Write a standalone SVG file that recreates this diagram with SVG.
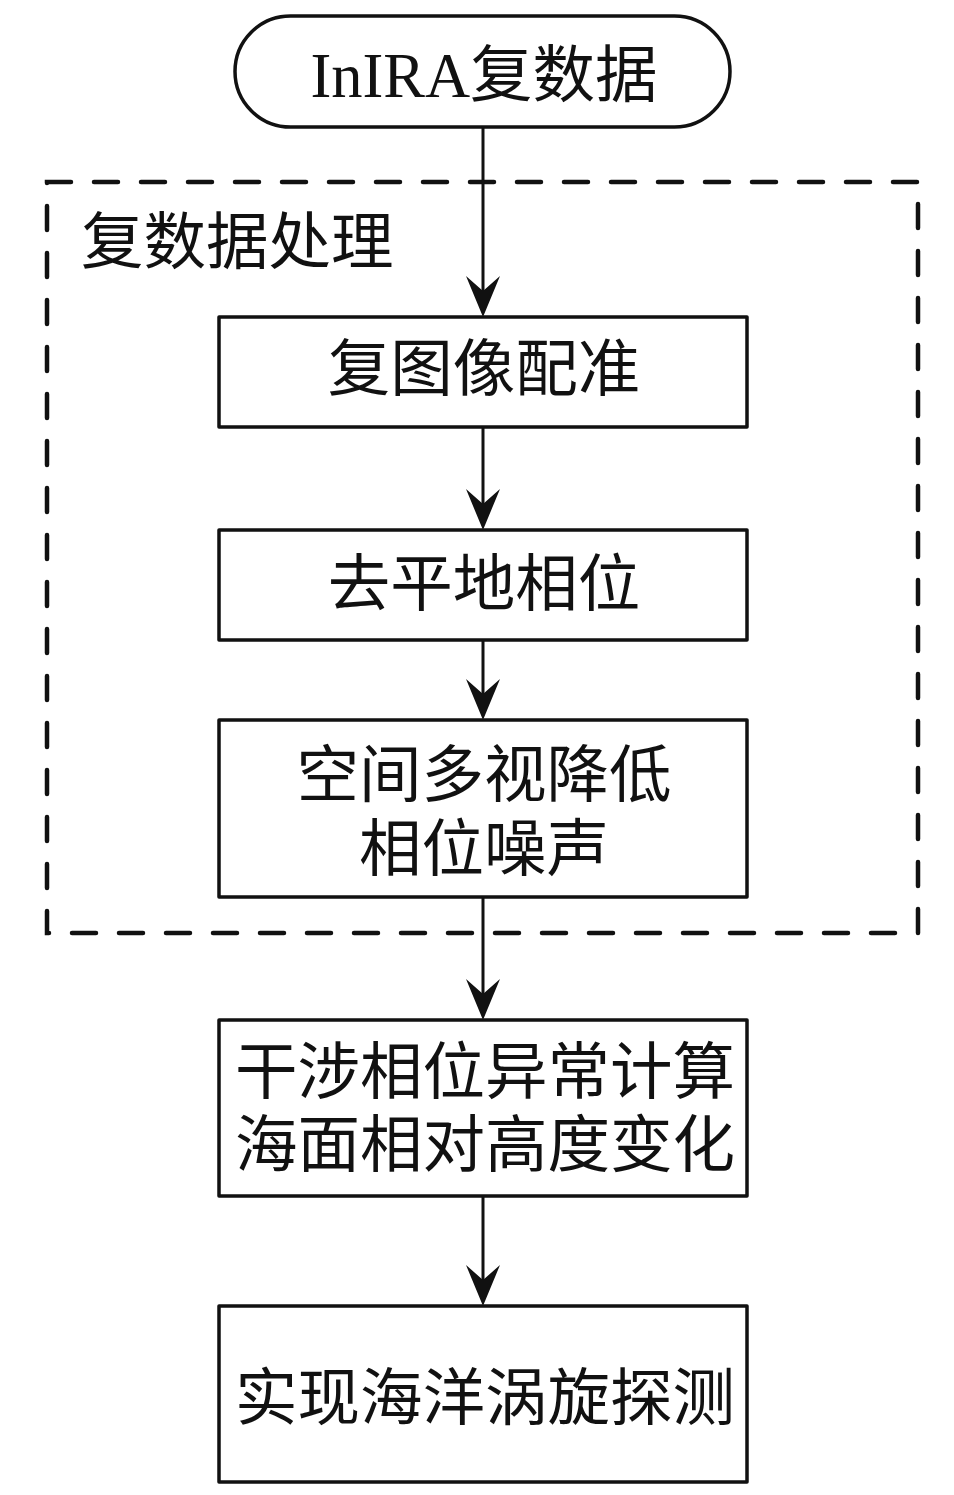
<svg xmlns="http://www.w3.org/2000/svg" width="954" height="1495" viewBox="0 0 954 1495">
<style>
.bg{fill:#fff}
.node{fill:#fff;stroke:#111;stroke-width:3.5;stroke-linejoin:round}
.grp{fill:none;stroke:#111;stroke-width:4.5;stroke-dasharray:24 23;stroke-linecap:round}
.t{font-family:"Liberation Serif","Noto Sans CJK SC",serif;font-size:62.5px;fill:#111;text-anchor:middle}
.tl{font-family:"Liberation Serif","Noto Sans CJK SC",serif;font-size:62.5px;fill:#111}
.edge{stroke:#111;stroke-width:3;fill:none}
.head{fill:#111}
</style>
<rect class="bg" x="0" y="0" width="954" height="1495"/>
<g id="group-processing">
<rect class="grp" x="47" y="182" width="871" height="751"/>
<text class="tl" x="81" y="264">复数据处理</text>
</g>
<g id="connectors">
<line class="edge" x1="483" y1="127" x2="483" y2="300"/>
<path class="head" d="M483,317 L466,276 L483,291 L500,276 Z"/>
<line class="edge" x1="483" y1="427" x2="483" y2="513"/>
<path class="head" d="M483,530 L466,489 L483,504 L500,489 Z"/>
<line class="edge" x1="483" y1="640" x2="483" y2="703"/>
<path class="head" d="M483,720 L466,679 L483,694 L500,679 Z"/>
<line class="edge" x1="483" y1="897" x2="483" y2="1003"/>
<path class="head" d="M483,1020 L466,979 L483,994 L500,979 Z"/>
<line class="edge" x1="483" y1="1196" x2="483" y2="1289"/>
<path class="head" d="M483,1306 L466,1265 L483,1280 L500,1265 Z"/>
</g>
<g id="start">
<rect class="node" x="235" y="16" width="495" height="111" rx="55.5" ry="55.5"/>
<text class="t" x="484" y="97">InIRA复数据</text>
</g>
<g id="step1">
<rect class="node" x="219" y="317" width="528" height="110"/>
<text class="t" x="484" y="391">复图像配准</text>
</g>
<g id="step2">
<rect class="node" x="219" y="530" width="528" height="110"/>
<text class="t" x="484" y="606">去平地相位</text>
</g>
<g id="step3">
<rect class="node" x="219" y="720" width="528" height="177"/>
<text class="t" x="484" y="797">空间多视降低</text>
<text class="t" x="484" y="871">相位噪声</text>
</g>
<g id="step4">
<rect class="node" x="219" y="1020" width="528" height="176"/>
<text class="t" x="485" y="1094">干涉相位异常计算</text>
<text class="t" x="485" y="1167">海面相对高度变化</text>
</g>
<g id="step5">
<rect class="node" x="219" y="1306" width="528" height="176"/>
<text class="t" x="485" y="1420">实现海洋涡旋探测</text>
</g>
</svg>
